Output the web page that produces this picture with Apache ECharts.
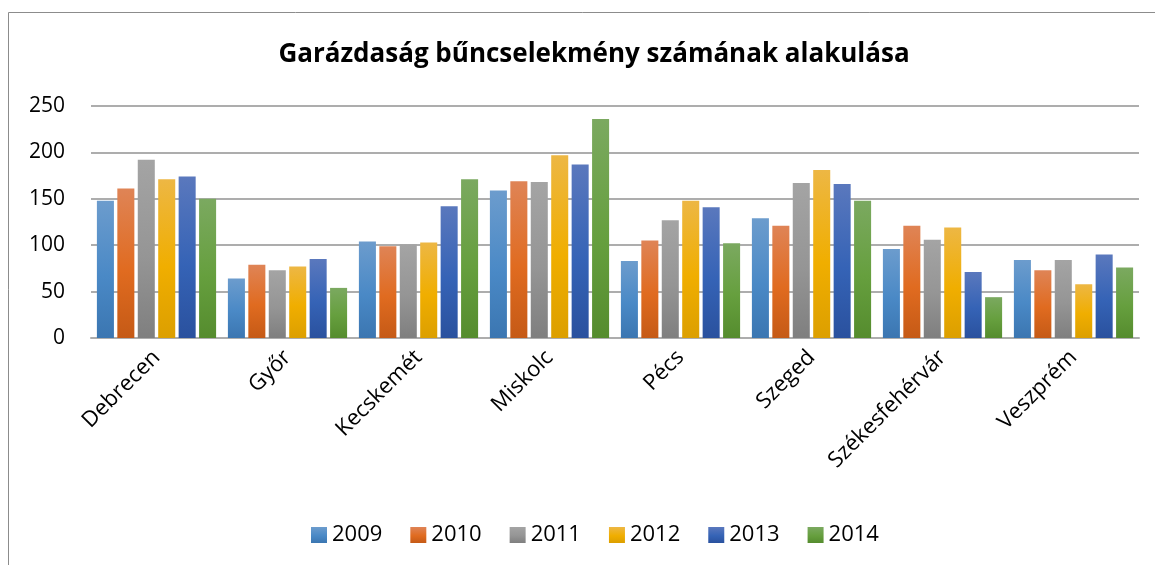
<!DOCTYPE html>
<html>
<head>
<meta charset="utf-8">
<script src="https://cdn.jsdelivr.net/npm/echarts@6/dist/echarts.min.js"></script>
<style>
html,body{margin:0;padding:0;background:#fff;}
#chart{width:1155px;height:565px;}
</style>
</head>
<body>
<div id="chart"></div>
<script>
const titleText = 'Garázdaság bűncselekmény számának alakulása';
const categories = ['Debrecen', 'Győr', 'Kecskemét', 'Miskolc', 'Pécs', 'Szeged', 'Székesfehérvár', 'Veszprém'];
const seriesNames = ['2009', '2010', '2011', '2012', '2013', '2014'];
const v2009 = [148, 64, 104, 159, 83, 129, 96, 84];
const v2010 = [161, 79, 99, 169, 105, 121, 121, 73];
const v2011 = [192, 73, 101, 168, 127, 167, 106, 84];
const v2012 = [171, 77, 103, 197, 148, 181, 119, 58];
const v2013 = [174, 85, 142, 187, 141, 166, 71, 90];
const v2014 = [150, 54, 171, 236, 102, 148, 44, 76];
const values = [v2009, v2010, v2011, v2012, v2013, v2014];
const yTicks = [0, 50, 100, 150, 200, 250];

const gradients = [
  ['#6c9ccd', '#4a89c6', '#3b76b1'],
  ['#df8456', '#e06b20', '#c55a16'],
  ['#a4a4a4', '#959595', '#7f7f7f'],
  ['#edb744', '#f0ae00', '#dc9f00'],
  ['#5a78bd', '#3563b6', '#2a519e'],
  ['#7ba960', '#669f3e', '#558c2e']
];
const font = '"Open Sans", sans-serif';

function grad(c){
  return new echarts.graphic.LinearGradient(0,0,0,1,[
    {offset:0,color:c[0]},{offset:0.55,color:c[1]},{offset:1,color:c[2]}
  ]);
}

const chart = echarts.init(document.getElementById('chart'), null, {renderer:'canvas'});
chart.setOption({
  animation:false,
  backgroundColor:'#fff',
  color: gradients.map(g => g[1]),
  title:{
    text:titleText, left:589, textAlign:'center', top:37,
    textStyle:{fontFamily:font, fontWeight:'bold', fontSize:26, color:'#000'}
  },
  graphic:[
    {type:'polyline', shape:{points:[[8.5,600],[8.5,12.5],[1200,12.5]]}, style:{stroke:'#8c8c8c', lineWidth:1, fill:null}}
  ],
  legend:{
    data:seriesNames, left:306, top:519, itemWidth:16, itemHeight:16, itemGap:28,
    icon:'rect',
    textStyle:{fontFamily:font, fontSize:22, color:'#000'}
  },
  grid:{left:91, right:16, top:106, bottom:227, containLabel:false},
  xAxis:{
    type:'category', data:categories,
    axisLine:{lineStyle:{color:'#adadad', width:2}},
    axisTick:{show:false},
    axisLabel:{rotate:45, fontFamily:font, fontSize:22, color:'#000', margin:16, interval:0}
  },
  yAxis:{
    type:'value', min:0, max:250, interval:50,
    axisLine:{show:false}, axisTick:{show:false},
    splitLine:{lineStyle:{color:'#adadad', width:2}},
    axisLabel:{fontFamily:font, fontSize:21, color:'#000', margin:26}
  },
  series: seriesNames.map((n,i)=>({
    name:n, type:'bar', data:values[i],
    barGap:'20%', barCategoryGap:'9%',
    itemStyle:{color:grad(gradients[i])}
  }))
});
</script>
</body>
</html>
